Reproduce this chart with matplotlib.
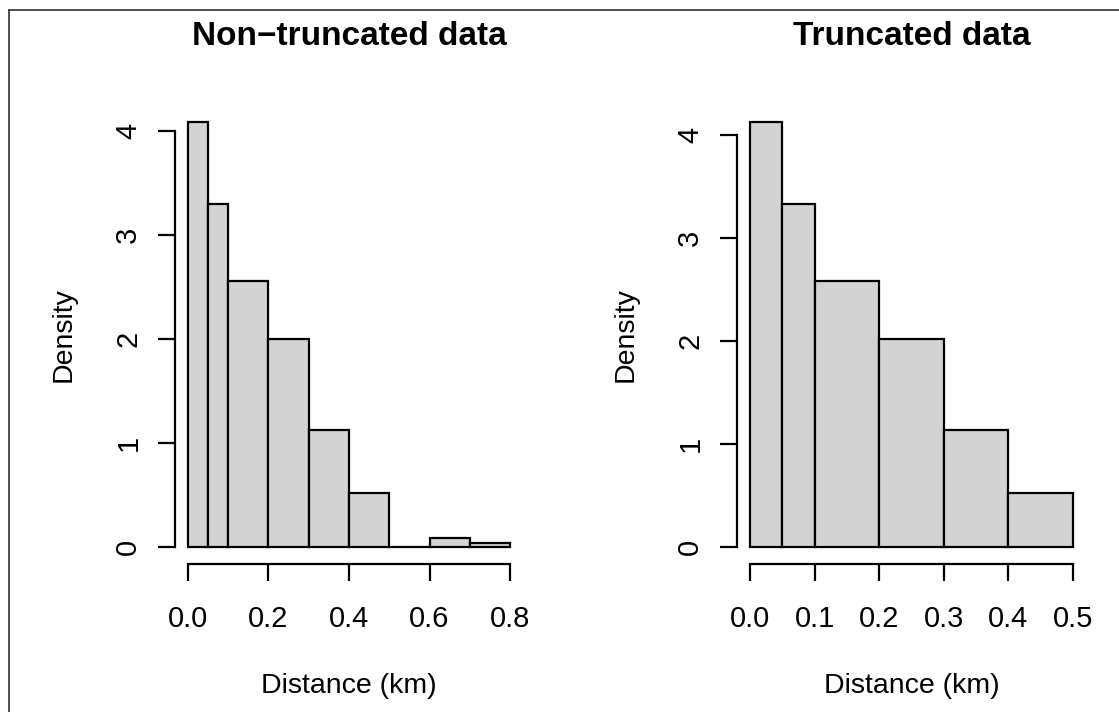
import matplotlib
matplotlib.use("Agg")
import matplotlib.pyplot as plt
from matplotlib.lines import Line2D
import numpy as np

plt.rcParams['font.family'] = ['Liberation Sans', 'DejaVu Sans']

# Data
left_edges = [0.0, 0.05, 0.1, 0.2, 0.3, 0.4, 0.5, 0.6, 0.7, 0.8]
left_density = [4.09, 3.30, 2.56, 2.00, 1.13, 0.52, 0.0, 0.087, 0.04]
right_edges = [0.0, 0.05, 0.1, 0.2, 0.3, 0.4, 0.5]
right_density = [4.13, 3.33, 2.585, 2.02, 1.14, 0.52]
left_xticks = [0.0, 0.2, 0.4, 0.6, 0.8]
left_xticklabels = ["0.0", "0.2", "0.4", "0.6", "0.8"]
right_xticks = [0.0, 0.1, 0.2, 0.3, 0.4, 0.5]
right_xticklabels = ["0.0", "0.1", "0.2", "0.3", "0.4", "0.5"]
yticks = [0, 1, 2, 3, 4]
titles = ["Non\u2212truncated data", "Truncated data"]
xlabel = "Distance (km)"
ylabel = "Density"

W, H = 1119, 712
fig = plt.figure(figsize=(W / 100, H / 100), dpi=100)

def px_axes(l, r, t, b):
    return fig.add_axes([l / W, 1 - b / H, (r - l) / W, (b - t) / H])

panels = [
    (px_axes(175, 523, 105, 564), left_edges, left_density, left_xticks, left_xticklabels, titles[0]),
    (px_axes(737, 1086, 105, 564), right_edges, right_density, right_xticks, right_xticklabels, titles[1]),
]

for ax, edges, dens, xt, xtl, title in panels:
    edges = np.array(edges)
    widths = np.diff(edges)
    ax.bar(edges[:-1], dens, width=widths, align='edge', color='#d3d3d3',
           edgecolor='black', linewidth=1.6)
    x0, x1 = edges[0], edges[-1]
    dx = (x1 - x0) * 0.04
    ax.set_xlim(x0 - dx, x1 + dx)
    ymax = max(dens)
    ax.set_ylim(-0.04 * ymax, 1.04 * ymax)
    for s in ['top', 'right']:
        ax.spines[s].set_visible(False)
    ax.spines['left'].set_bounds(0, 4)
    ax.spines['bottom'].set_bounds(xt[0], xt[-1])
    for s in ['left', 'bottom']:
        ax.spines[s].set_linewidth(1.6)
    ax.set_xticks(xt)
    ax.set_xticklabels(xtl)
    ax.set_yticks(yticks)
    ax.set_yticklabels([str(v) for v in yticks], rotation=90, va='center')
    ax.tick_params(axis='both', length=12.5, width=1.6, labelsize=21, color='black')
    ax.tick_params(axis='x', pad=17)
    ax.tick_params(axis='y', pad=11)
    ax.set_xlabel(xlabel, fontsize=20.5, labelpad=29)
    ax.set_ylabel(ylabel, fontsize=20.5, labelpad=27)
    ax.set_title(title, fontsize=24, fontweight='bold', pad=43)

# figure border (top and left)
fig.add_artist(Line2D([9 / W, 1], [1 - 10 / H, 1 - 10 / H], color='#333333', linewidth=1.2))
fig.add_artist(Line2D([9 / W, 9 / W], [0, 1 - 10 / H], color='#333333', linewidth=1.2))

fig.savefig("out.png", dpi=100)
